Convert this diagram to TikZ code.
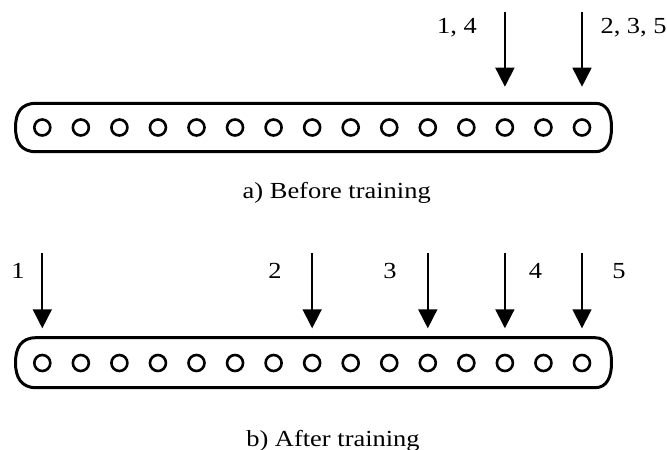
\documentclass[tikz,border=0pt]{standalone}
\usepackage{fontspec}
\setmainfont{Liberation Serif}[FakeStretch=1.15]
\usetikzlibrary{arrows.meta}
\tikzset{
  barline/.style={line width=3pt, line join=round},
  hole/.style={draw, circle, line width=2.6pt, inner sep=0pt, minimum size=16pt},
  lab/.style={font=\fontsize{23}{26}\selectfont, anchor=base, inner sep=0pt},
  pin/.style={line width=1.7pt, -{Triangle[width=19pt,length=19pt]}}
}
\begin{document}
\begin{tikzpicture}[x=1pt,y=-1pt]
\useasboundingbox (0,0) rectangle (667,450);
% ---------- a) before training ----------
\draw[barline] (36,103.3) -- (595,103.3)
  .. controls (607,103.3) and (611.5,113) .. (611.5,127.5)
  .. controls (611.5,142) and (607,151.7) .. (595,151.7)
  -- (36,151.7)
  .. controls (21,151.7) and (15.5,142) .. (15.5,127.5)
  .. controls (15.5,113) and (21,103.3) .. cycle;
\foreach \i in {1,...,15}
  \node[hole] (a\i) at ({42.3+(\i-1)*38.55},127.5) {};
\coordinate (as1) at (a13 |- 0,11.7);
\coordinate (at1) at (a13 |- 0,86.7);
\coordinate (as2) at (a15 |- 0,11.7);
\coordinate (at2) at (a15 |- 0,86.7);
\draw[pin] (as1) -- (at1);
\draw[pin] (as2) -- (at2);
\node[lab] (la1) at (457,33.3) {1, 4};
\node[lab] (la2) at (633.6,33.3) {2, 3, 5};
\node[lab] (capa) at (336.7,198.3) {a) Before training};
% ---------- b) after training ----------
\draw[barline] (36,337.7) -- (595,337.7)
  .. controls (607,337.7) and (611.5,348) .. (611.5,362.7)
  .. controls (611.5,377) and (607,387.7) .. (595,387.7)
  -- (36,387.7)
  .. controls (21,387.7) and (15.5,377) .. (15.5,362.7)
  .. controls (15.5,348) and (21,337.7) .. cycle;
\foreach \i in {1,...,15}
  \node[hole] (b\i) at ({42.3+(\i-1)*38.55},363) {};
\foreach \k/\c in {1/1,2/8,3/11,4/13,5/15}{
  \coordinate (bs\k) at (b\c |- 0,253.3);
  \coordinate (bt\k) at (b\c |- 0,328.3);
  \draw[pin] (bs\k) -- (bt\k);
}
\node[lab] (lb1) at (18,278) {1};
\node[lab] (lb2) at (275,278) {2};
\node[lab] (lb3) at (390,278) {3};
\node[lab] (lb4) at (535.5,278) {4};
\node[lab] (lb5) at (619,278) {5};
\node[lab] (capb) at (333,446) {b) After training};
\end{tikzpicture}
\end{document}
